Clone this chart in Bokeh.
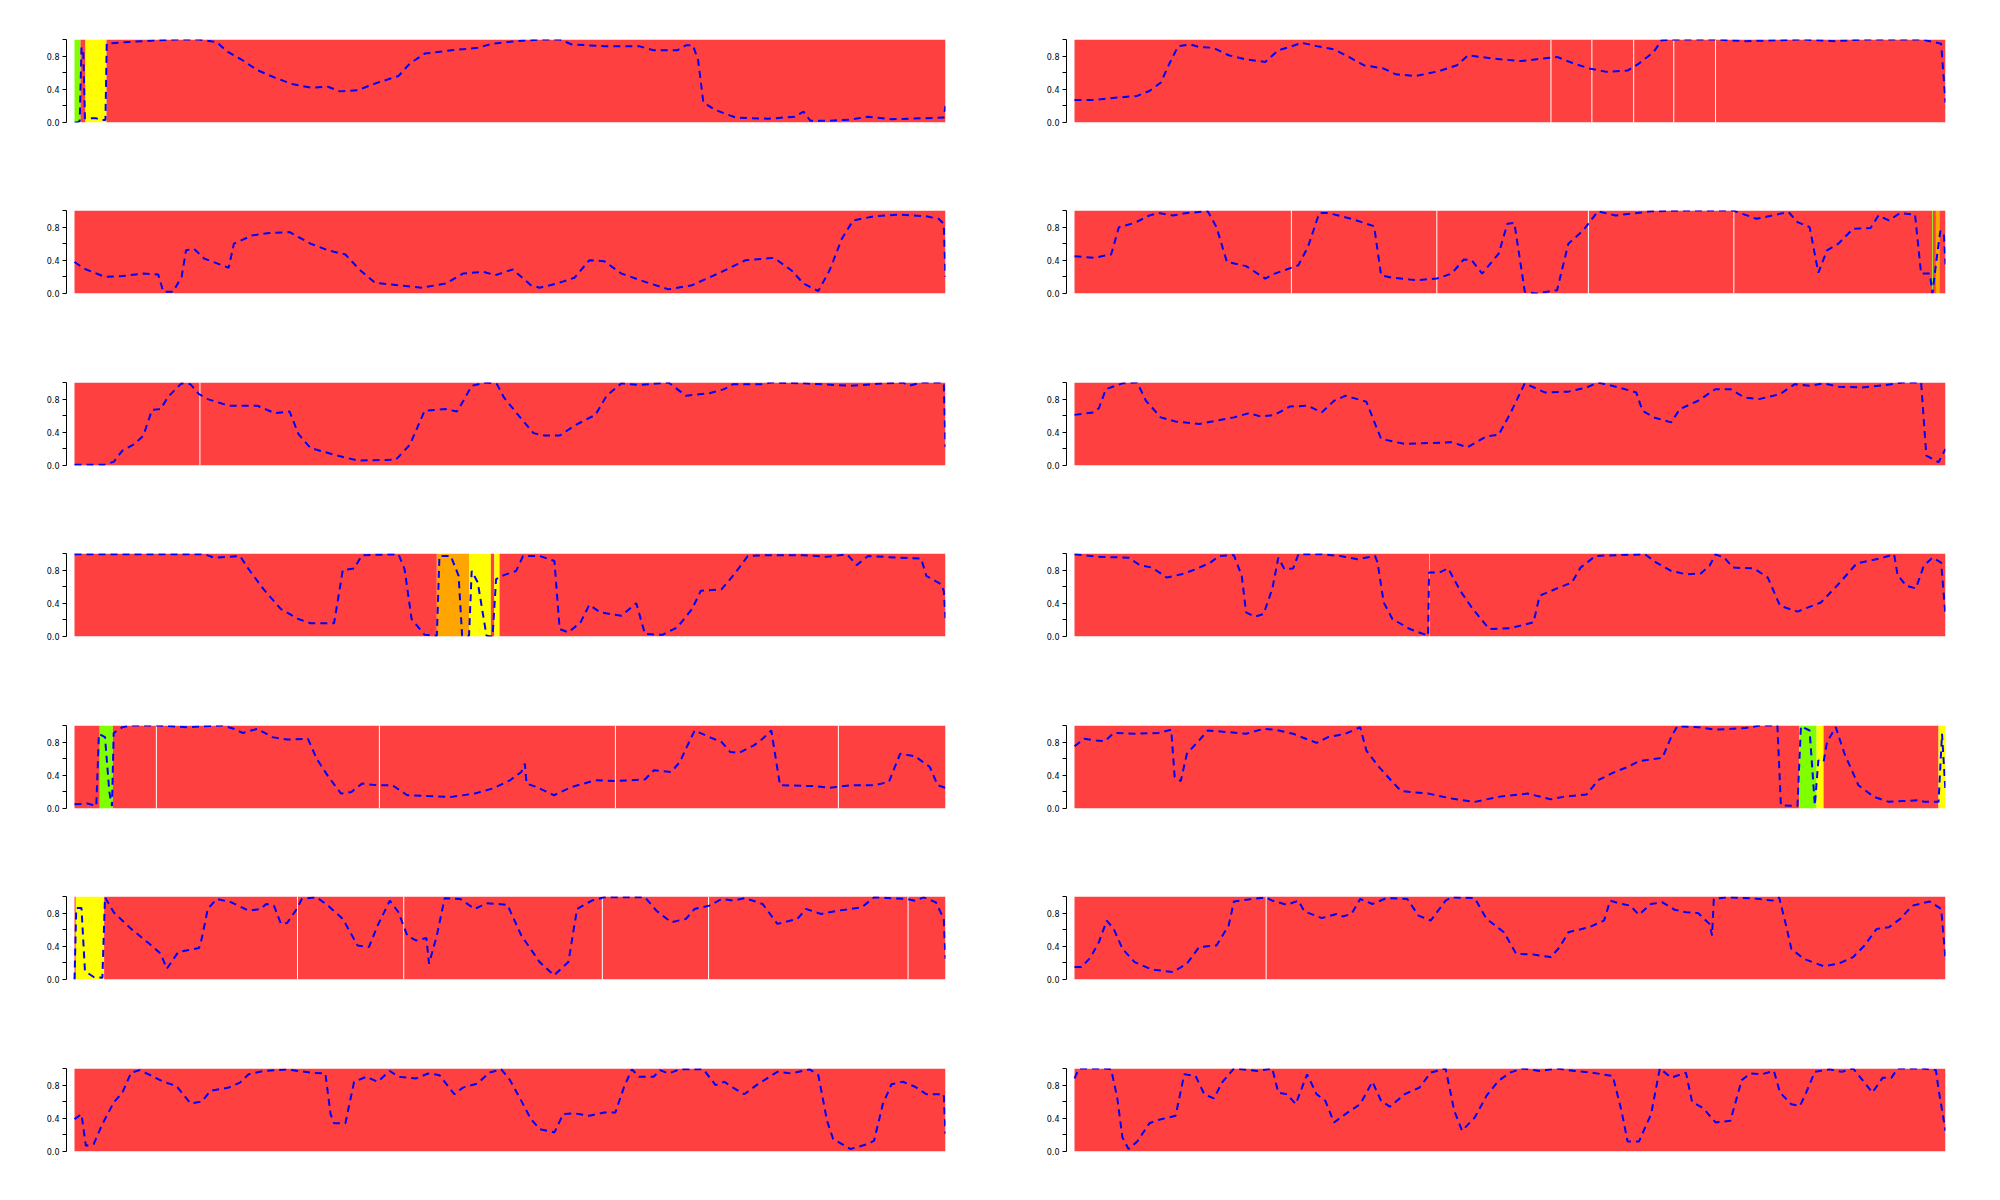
from bokeh.plotting import figure
from bokeh.layouts import column, row
from bokeh.models import FixedTicker, CustomJSTickFormatter
from bokeh.embed import file_html
from bokeh.resources import INLINE

# ---------------- data (x in % of track, y = probability) ----------------
# Row 1 left
L1_x = [0, 0.3, 0.6, 0.8, 1.0, 1.2, 1.5, 2.5, 3.0, 3.55, 3.7, 6.2, 9.6, 11.6, 14.3, 16.3, 17.6, 19.3, 21.0, 23.0, 25.1, 27.1, 29.1, 30.5, 32.5, 34.8, 37.2, 38.5, 40.2, 43.3, 46.3, 48.0, 50.7, 53.4, 55.7, 57.1, 60.8, 64.8, 66.5, 69.2, 70.2, 71.0, 71.6, 72.2, 73.6, 75.9, 79.6, 82.7, 83.7, 84.5, 86.4, 89.1, 91.1, 93.8, 97.2, 99.8, 100]
L1_y = [0.0, 0.0, 0.02, 0.9, 0.88, 0.05, 0.05, 0.05, 0.03, 0.03, 0.95, 0.97, 0.99, 1.0, 1.0, 0.97, 0.85, 0.75, 0.63, 0.54, 0.46, 0.42, 0.43, 0.375, 0.39, 0.48, 0.56, 0.71, 0.83, 0.87, 0.9, 0.95, 0.98, 1.0, 1.0, 0.94, 0.92, 0.92, 0.87, 0.87, 0.93, 0.93, 0.75, 0.24, 0.15, 0.06, 0.045, 0.07, 0.13, 0.02, 0.02, 0.035, 0.07, 0.04, 0.05, 0.06, 0.2]
# Row 1 right
R1_x = [0, 2.2, 4.9, 7.2, 8.6, 9.9, 10.9, 11.9, 13.3, 14.3, 15.9, 17.7, 19.7, 21.9, 23.4, 24.7, 26.1, 27.8, 29.8, 31.5, 33.2, 35.5, 36.9, 39.2, 41.9, 43.9, 45.2, 48.0, 51.3, 55.4, 57.1, 59.1, 61.1, 63.5, 64.8, 66.5, 67.4, 68.9, 73.6, 77.0, 83.7, 87.4, 90.4, 97.2, 99.5, 100]
R1_y = [0.27, 0.27, 0.3, 0.32, 0.38, 0.48, 0.71, 0.92, 0.94, 0.91, 0.9, 0.81, 0.76, 0.73, 0.87, 0.91, 0.96, 0.92, 0.88, 0.79, 0.69, 0.65, 0.58, 0.56, 0.62, 0.69, 0.81, 0.77, 0.74, 0.79, 0.72, 0.65, 0.61, 0.625, 0.71, 0.85, 0.99, 1.0, 1.0, 0.98, 1.0, 0.98, 1.0, 1.0, 0.95, 0.24]
# Row 2 left
L2_x = [0, 1.1, 3.5, 5.5, 7.9, 9.6, 10.2, 11.3, 12.3, 12.8, 13.7, 14.9, 17.7, 18.3, 20.4, 22.4, 24.7, 27.1, 29.1, 31.1, 32.8, 34.5, 37.2, 39.9, 42.6, 44.6, 47.0, 48.3, 50.3, 52.4, 53.4, 55.4, 57.4, 59.1, 60.8, 62.8, 65.5, 68.2, 70.9, 74.3, 77.0, 80.3, 82.3, 83.7, 85.4, 86.7, 88.1, 89.4, 91.8, 94.8, 97.8, 99.2, 99.8, 100]
L2_y = [0.38, 0.3, 0.2, 0.21, 0.24, 0.23, 0.02, 0.02, 0.2, 0.52, 0.54, 0.42, 0.31, 0.6, 0.7, 0.73, 0.74, 0.6, 0.52, 0.47, 0.28, 0.13, 0.1, 0.07, 0.12, 0.24, 0.26, 0.22, 0.29, 0.1, 0.07, 0.12, 0.19, 0.4, 0.39, 0.24, 0.14, 0.05, 0.1, 0.26, 0.4, 0.43, 0.28, 0.12, 0.03, 0.28, 0.66, 0.88, 0.93, 0.95, 0.93, 0.9, 0.84, 0.2]
# Row 2 right
R2_x = [0, 2.2, 4.2, 5.1, 6.9, 8.6, 9.6, 11.3, 12.9, 15.3, 16.3, 17.5, 19.7, 21.9, 23.0, 25.7, 26.8, 28.1, 29.1, 31.8, 34.4, 35.2, 36.5, 39.2, 41.6, 43.3, 44.7, 45.6, 46.8, 48.7, 49.7, 50.5, 51.7, 53.0, 55.4, 56.7, 58.4, 60.1, 62.1, 66.2, 70.2, 75.6, 78.3, 81.0, 82.0, 83.0, 84.4, 85.4, 86.4, 87.7, 89.4, 91.4, 92.3, 93.5, 94.8, 96.5, 97.2, 98.2, 98.5, 98.9, 99.4, 99.8, 100]
R2_y = [0.45, 0.43, 0.47, 0.8, 0.85, 0.94, 0.97, 0.94, 0.97, 0.99, 0.8, 0.38, 0.33, 0.18, 0.24, 0.34, 0.56, 0.97, 0.97, 0.9, 0.81, 0.22, 0.19, 0.16, 0.18, 0.24, 0.41, 0.4, 0.24, 0.48, 0.84, 0.85, 0.02, 0.0, 0.04, 0.6, 0.76, 0.99, 0.94, 0.99, 1.0, 1.0, 0.9, 0.96, 0.98, 0.86, 0.8, 0.25, 0.52, 0.6, 0.78, 0.79, 0.94, 0.88, 0.97, 0.95, 0.24, 0.24, 0.0, 0.35, 0.75, 0.74, 0.35]
# Row 3 left
L3_x = [0, 3.5, 4.5, 5.5, 6.9, 7.9, 8.9, 9.9, 10.7, 11.6, 12.3, 13.3, 14.3, 15.3, 17.7, 21.0, 23.0, 24.7, 25.7, 27.1, 29.8, 32.5, 36.9, 38.5, 40.2, 42.6, 43.9, 44.6, 45.6, 47.3, 48.5, 49.3, 51.0, 52.7, 54.0, 55.7, 57.4, 59.8, 61.1, 62.8, 64.8, 68.2, 70.2, 72.9, 74.6, 75.6, 79.0, 80.0, 83.7, 89.1, 93.1, 95.1, 95.8, 97.2, 99.8, 100]
L3_y = [0.01, 0.01, 0.045, 0.18, 0.26, 0.36, 0.67, 0.68, 0.82, 0.92, 0.99, 0.98, 0.86, 0.8, 0.72, 0.72, 0.63, 0.65, 0.38, 0.21, 0.13, 0.06, 0.07, 0.25, 0.66, 0.68, 0.65, 0.77, 0.96, 1.0, 0.98, 0.82, 0.6, 0.39, 0.36, 0.36, 0.48, 0.61, 0.84, 0.99, 0.97, 1.0, 0.84, 0.87, 0.92, 0.98, 0.98, 1.0, 0.99, 0.96, 0.99, 1.0, 0.96, 1.0, 1.0, 0.22]
# Row 3 right
R3_x = [0, 2.2, 2.8, 3.6, 5.5, 7.2, 8.2, 9.9, 11.6, 14.3, 16.3, 18.3, 20.0, 21.4, 23.0, 24.7, 26.8, 28.4, 29.8, 31.1, 33.5, 35.2, 37.9, 40.6, 43.3, 45.1, 47.3, 48.7, 50.0, 51.7, 54.0, 56.7, 58.8, 60.1, 62.5, 64.5, 65.2, 66.5, 68.5, 69.5, 71.6, 73.6, 75.3, 76.9, 78.6, 81.0, 82.7, 84.4, 86.0, 87.7, 90.4, 93.1, 95.1, 97.2, 97.8, 99.2, 100]
R3_y = [0.61, 0.64, 0.69, 0.92, 0.99, 1.0, 0.78, 0.58, 0.53, 0.5, 0.54, 0.58, 0.63, 0.59, 0.61, 0.71, 0.72, 0.64, 0.78, 0.84, 0.77, 0.32, 0.26, 0.27, 0.28, 0.22, 0.35, 0.37, 0.62, 0.99, 0.88, 0.89, 0.94, 1.0, 0.94, 0.88, 0.66, 0.58, 0.52, 0.68, 0.78, 0.92, 0.92, 0.82, 0.8, 0.86, 0.98, 0.96, 0.99, 0.95, 0.94, 0.97, 1.0, 1.0, 0.12, 0.04, 0.2]
# Row 4 left
L4_x = [0, 6.2, 15.0, 16.0, 19.0, 20.0, 21.7, 23.7, 25.7, 27.1, 29.8, 30.8, 32.1, 33.0, 37.2, 37.9, 38.7, 40.2, 41.6, 41.9, 43.2, 44.1, 44.5, 45.3, 45.6, 46.3, 47.3, 48.0, 48.4, 49.3, 50.7, 51.5, 53.4, 55.1, 55.7, 56.7, 58.1, 59.1, 60.4, 62.8, 64.5, 65.5, 67.5, 69.2, 70.9, 71.9, 74.3, 75.9, 77.3, 79.6, 83.7, 86.4, 88.7, 89.8, 91.1, 94.5, 97.2, 97.8, 99.5, 99.8, 100]
L4_y = [0.99, 0.99, 0.99, 0.95, 0.97, 0.81, 0.57, 0.33, 0.21, 0.16, 0.16, 0.8, 0.82, 0.98, 0.99, 0.81, 0.21, 0.02, 0.01, 0.97, 0.97, 0.73, 0.01, 0.01, 0.79, 0.65, 0.01, 0.0, 0.69, 0.74, 0.79, 0.97, 0.97, 0.91, 0.09, 0.05, 0.17, 0.38, 0.29, 0.25, 0.4, 0.03, 0.02, 0.11, 0.33, 0.55, 0.57, 0.77, 0.97, 0.98, 0.98, 0.96, 0.99, 0.86, 0.97, 0.95, 0.94, 0.73, 0.63, 0.55, 0.22]
# Row 4 right
R4_x = [0, 2.8, 6.2, 7.5, 8.9, 10.6, 12.3, 13.9, 15.6, 16.6, 18.3, 19.2, 19.7, 20.7, 21.7, 22.7, 23.4, 24.1, 25.1, 25.7, 28.4, 30.5, 32.5, 34.5, 34.8, 35.5, 36.5, 38.5, 40.6, 40.7, 41.9, 42.9, 44.3, 45.6, 47.6, 50.0, 52.7, 53.4, 55.4, 57.1, 58.1, 59.8, 62.1, 65.5, 66.8, 68.5, 70.2, 71.9, 72.9, 73.6, 74.6, 75.6, 78.0, 79.6, 81.0, 83.0, 85.7, 87.7, 89.8, 92.5, 94.1, 94.5, 95.5, 96.6, 97.5, 98.5, 99.5, 100]
R4_y = [0.99, 0.96, 0.95, 0.86, 0.83, 0.71, 0.75, 0.81, 0.89, 0.97, 0.98, 0.73, 0.29, 0.24, 0.27, 0.57, 0.95, 0.81, 0.82, 0.99, 0.99, 0.97, 0.93, 0.97, 0.89, 0.41, 0.21, 0.09, 0.01, 0.77, 0.77, 0.82, 0.55, 0.35, 0.09, 0.1, 0.17, 0.49, 0.58, 0.65, 0.83, 0.97, 0.98, 0.99, 0.89, 0.79, 0.75, 0.76, 0.85, 0.99, 0.95, 0.83, 0.82, 0.71, 0.37, 0.3, 0.41, 0.63, 0.88, 0.94, 0.99, 0.74, 0.61, 0.58, 0.85, 0.95, 0.89, 0.25]
# Row 5 left
L5_x = [0, 1.5, 2.5, 2.8, 3.5, 4.0, 4.3, 4.5, 5.5, 6.5, 9.6, 12.9, 17.0, 18.3, 19.3, 21.0, 22.7, 24.4, 26.8, 27.8, 29.1, 30.6, 31.8, 33.0, 34.8, 36.5, 38.2, 40.6, 43.3, 45.95, 48.0, 50.0, 51.3, 51.7, 51.9, 53.0, 55.05, 57.1, 59.8, 62.1, 65.5, 66.5, 68.5, 69.5, 70.2, 71.2, 72.9, 74.3, 75.3, 76.3, 78.0, 79.0, 80.0, 81.0, 85.0, 86.7, 89.1, 91.8, 93.5, 94.8, 96.5, 98.2, 99.1, 100]
L5_y = [0.05, 0.06, 0.03, 0.9, 0.86, 0.2, 0.03, 0.91, 0.98, 1.0, 1.0, 0.98, 1.0, 0.96, 0.91, 0.96, 0.86, 0.83, 0.84, 0.6, 0.39, 0.18, 0.2, 0.3, 0.28, 0.28, 0.16, 0.15, 0.14, 0.18, 0.24, 0.34, 0.44, 0.54, 0.3, 0.26, 0.16, 0.26, 0.34, 0.33, 0.35, 0.46, 0.44, 0.56, 0.72, 0.94, 0.86, 0.8, 0.68, 0.67, 0.76, 0.84, 0.94, 0.28, 0.27, 0.25, 0.28, 0.28, 0.32, 0.66, 0.63, 0.5, 0.28, 0.25]
# Row 5 right
R5_x = [0, 1.1, 2.5, 3.5, 4.5, 6.9, 9.6, 11.1, 11.5, 12.2, 12.9, 14.3, 15.3, 17.7, 19.7, 21.7, 23.0, 25.1, 27.8, 29.1, 31.1, 32.8, 33.5, 34.8, 36.5, 37.5, 40.6, 43.3, 45.95, 48.65, 52.0, 54.7, 56.1, 58.8, 60.1, 61.8, 63.5, 64.8, 67.5, 68.5, 69.2, 71.6, 73.6, 77.0, 78.7, 80.7, 81.1, 83.0, 83.4, 84.4, 85.0, 85.4, 86.0, 86.4, 87.4, 88.4, 90.0, 91.8, 93.5, 95.1, 97.2, 97.5, 99.2, 99.6, 100]
R5_y = [0.75, 0.84, 0.82, 0.81, 0.91, 0.9, 0.91, 0.95, 0.38, 0.33, 0.66, 0.82, 0.94, 0.92, 0.9, 0.96, 0.95, 0.9, 0.79, 0.86, 0.9, 0.98, 0.7, 0.52, 0.32, 0.21, 0.18, 0.12, 0.08, 0.14, 0.18, 0.11, 0.14, 0.17, 0.34, 0.43, 0.5, 0.57, 0.61, 0.86, 0.99, 0.98, 0.95, 0.97, 1.0, 1.0, 0.04, 0.03, 0.99, 0.94, 0.04, 0.58, 0.56, 0.8, 0.98, 0.66, 0.28, 0.14, 0.08, 0.09, 0.1, 0.08, 0.08, 0.9, 0.2]
# Row 6 left
L6_x = [0, 0.2, 0.8, 1.2, 2.2, 3.2, 3.5, 4.5, 6.5, 8.6, 9.9, 10.6, 11.9, 14.3, 14.6, 15.3, 16.3, 18.0, 20.0, 21.4, 22.0, 22.9, 23.7, 24.4, 25.4, 26.1, 27.8, 29.1, 30.8, 32.5, 33.8, 34.8, 36.2, 37.2, 38.2, 39.2, 40.4, 40.7, 41.6, 42.5, 44.3, 45.95, 47.3, 49.7, 51.3, 53.4, 55.05, 56.7, 57.7, 59.4, 60.8, 65.5, 66.8, 68.5, 70.2, 71.2, 72.9, 74.3, 75.6, 77.0, 79.0, 80.7, 83.0, 84.0, 85.7, 87.7, 90.4, 91.8, 95.5, 96.5, 97.5, 98.9, 99.8, 100]
L6_y = [0.0, 0.86, 0.86, 0.1, 0.03, 0.02, 0.99, 0.81, 0.61, 0.43, 0.31, 0.13, 0.33, 0.38, 0.49, 0.85, 0.97, 0.93, 0.83, 0.85, 0.91, 0.89, 0.67, 0.68, 0.83, 0.97, 0.99, 0.89, 0.73, 0.41, 0.39, 0.65, 0.95, 0.81, 0.53, 0.47, 0.5, 0.19, 0.53, 0.98, 0.97, 0.85, 0.92, 0.9, 0.53, 0.21, 0.05, 0.21, 0.85, 0.95, 0.99, 0.99, 0.83, 0.69, 0.73, 0.85, 0.89, 0.97, 0.95, 0.98, 0.91, 0.67, 0.73, 0.85, 0.79, 0.83, 0.87, 0.99, 0.97, 0.95, 0.99, 0.93, 0.73, 0.25]
# Row 6 right
R6_x = [0, 0.8, 1.8, 2.8, 3.7, 4.5, 5.5, 6.9, 8.9, 11.3, 12.9, 14.3, 16.3, 17.7, 18.3, 20.4, 22.0, 22.7, 24.4, 25.7, 26.4, 28.4, 30.1, 30.8, 31.8, 32.8, 34.2, 35.8, 38.2, 39.5, 40.9, 42.6, 43.3, 45.95, 47.3, 49.3, 50.7, 52.7, 54.7, 55.7, 56.7, 59.1, 60.8, 61.5, 62.8, 63.8, 64.8, 66.2, 67.5, 68.9, 70.2, 71.6, 72.9, 73.2, 73.4, 74.9, 77.6, 80.3, 80.9, 81.7, 82.3, 83.7, 86.0, 87.7, 89.4, 90.7, 92.1, 93.5, 94.8, 96.2, 98.2, 99.5, 100]
R6_y = [0.15, 0.15, 0.26, 0.45, 0.71, 0.61, 0.37, 0.21, 0.12, 0.09, 0.19, 0.39, 0.41, 0.65, 0.94, 0.97, 0.99, 0.95, 0.9, 0.95, 0.82, 0.74, 0.79, 0.76, 0.79, 0.97, 0.91, 0.98, 0.97, 0.77, 0.71, 0.95, 0.99, 0.98, 0.73, 0.57, 0.31, 0.3, 0.27, 0.39, 0.57, 0.63, 0.71, 0.95, 0.91, 0.89, 0.78, 0.91, 0.93, 0.84, 0.81, 0.8, 0.67, 0.53, 0.97, 0.99, 0.98, 0.95, 0.99, 0.65, 0.37, 0.25, 0.16, 0.19, 0.27, 0.41, 0.61, 0.63, 0.73, 0.89, 0.94, 0.85, 0.25]
# Row 7 left
L7_x = [0, 0.8, 1.3, 2.2, 3.2, 4.5, 5.5, 6.5, 7.5, 8.9, 10.2, 11.7, 13.3, 14.6, 15.6, 17.7, 19.0, 20.0, 21.7, 24.4, 27.1, 28.8, 29.4, 29.8, 31.1, 32.1, 33.5, 34.8, 36.2, 37.2, 39.2, 40.6, 41.9, 43.6, 44.6, 46.3, 47.6, 49.0, 50.0, 51.3, 52.4, 53.4, 55.1, 56.1, 57.4, 59.1, 60.8, 62.1, 63.1, 64.0, 64.8, 66.5, 67.2, 68.2, 69.5, 72.2, 73.6, 74.6, 75.6, 76.9, 78.3, 80.7, 82.3, 84.4, 85.4, 86.4, 87.1, 89.1, 91.1, 91.8, 92.8, 93.8, 95.1, 96.5, 97.8, 99.8, 100]
L7_y = [0.39, 0.45, 0.07, 0.09, 0.33, 0.59, 0.71, 0.95, 0.98, 0.91, 0.84, 0.79, 0.58, 0.6, 0.73, 0.77, 0.83, 0.93, 0.97, 0.99, 0.95, 0.94, 0.45, 0.34, 0.34, 0.84, 0.9, 0.84, 0.97, 0.9, 0.88, 0.94, 0.92, 0.69, 0.77, 0.82, 0.95, 0.99, 0.86, 0.61, 0.39, 0.27, 0.23, 0.45, 0.46, 0.43, 0.47, 0.47, 0.78, 0.99, 0.9, 0.9, 0.98, 0.94, 0.99, 0.99, 0.8, 0.84, 0.77, 0.69, 0.8, 0.96, 0.94, 0.99, 0.92, 0.37, 0.15, 0.03, 0.09, 0.13, 0.57, 0.81, 0.84, 0.78, 0.69, 0.69, 0.21]
# Row 7 right
R7_x = [0, 0.5, 3.5, 4.2, 4.9, 5.5, 6.2, 7.2, 8.6, 9.6, 11.6, 12.6, 13.9, 14.9, 16.0, 17.0, 18.3, 21.0, 22.7, 23.4, 24.4, 25.4, 26.7, 27.8, 28.8, 29.8, 31.1, 32.8, 34.2, 35.2, 36.2, 37.9, 39.6, 40.9, 42.6, 43.6, 44.5, 45.95, 47.3, 48.65, 50.0, 51.4, 53.4, 55.4, 57.4, 59.4, 61.8, 62.8, 63.5, 64.8, 66.2, 67.2, 68.5, 70.2, 70.9, 72.2, 73.6, 75.3, 76.6, 77.6, 78.9, 80.3, 81.0, 82.3, 83.3, 84.0, 85.0, 86.7, 88.1, 89.4, 90.4, 91.6, 92.8, 93.8, 94.5, 97.2, 98.9, 99.2, 100]
R7_y = [0.88, 1.0, 1.0, 0.99, 0.65, 0.17, 0.03, 0.12, 0.34, 0.38, 0.43, 0.93, 0.91, 0.69, 0.64, 0.84, 1.0, 0.97, 1.0, 0.71, 0.69, 0.57, 0.93, 0.69, 0.61, 0.35, 0.45, 0.57, 0.84, 0.61, 0.54, 0.69, 0.77, 0.95, 1.0, 0.49, 0.25, 0.41, 0.67, 0.85, 0.95, 1.0, 0.97, 1.0, 0.97, 0.95, 0.91, 0.49, 0.12, 0.12, 0.45, 1.0, 0.89, 0.95, 0.6, 0.52, 0.35, 0.37, 0.86, 0.94, 0.93, 0.97, 0.71, 0.57, 0.55, 0.71, 0.96, 0.99, 0.96, 1.0, 0.87, 0.71, 0.89, 0.89, 1.0, 1.0, 0.98, 0.75, 0.25]

# Background tracks: segment starts / ends / colours, and white separators
L1_seg_start = [0, 0.69, 1.26, 3.67]
L1_seg_end = [0.69, 1.26, 3.67, 100]
L1_seg_col = ["#7FFF00", "#FF4040", "#FFFF00", "#FF4040"]
L1_sep = []
R1_seg_start = [0]
R1_seg_end = [100]
R1_seg_col = ["#FF4040"]
R1_sep = [54.7, 59.4, 64.2, 68.8, 73.6]
L2_seg_start = [0]
L2_seg_end = [100]
L2_seg_col = ["#FF4040"]
L2_sep = []
R2_seg_start = [0, 98.45, 98.55, 98.9, 99.3]
R2_seg_end = [98.45, 98.55, 98.9, 99.3, 100]
R2_seg_col = ["#FF4040", "#7FFF00", "#FF4040", "#FFA500", "#FF4040"]
R2_sep = [24.9, 41.6, 59.0, 75.7]
L3_seg_start = [0]
L3_seg_end = [100]
L3_seg_col = ["#FF4040"]
L3_sep = [14.4]
R3_seg_start = [0]
R3_seg_end = [100]
R3_seg_col = ["#FF4040"]
R3_sep = []
L4_seg_start = [0, 41.6, 45.3, 47.8, 48.2, 48.8]
L4_seg_end = [41.6, 45.3, 47.8, 48.2, 48.8, 100]
L4_seg_col = ["#FF4040", "#FFA500", "#FFFF00", "#FF4040", "#FFFF00", "#FF4040"]
L4_sep = []
R4_seg_start = [0, 40.7, 40.8]
R4_seg_end = [40.7, 40.8, 100]
R4_seg_col = ["#FF4040", "#7FFF00", "#FF4040"]
R4_sep = []
L5_seg_start = [0, 2.9, 4.4]
L5_seg_end = [2.9, 4.4, 100]
L5_seg_col = ["#FF4040", "#7FFF00", "#FF4040"]
L5_sep = [9.4, 35.0, 62.1, 87.7]
R5_seg_start = [0, 83.2, 85.2, 86.0, 99.2]
R5_seg_end = [83.2, 85.2, 86.0, 99.2, 100]
R5_seg_col = ["#FF4040", "#7FFF00", "#FFFF00", "#FF4040", "#FFFF00"]
R5_sep = []
L6_seg_start = [0, 0.15, 3.4]
L6_seg_end = [0.15, 3.4, 100]
L6_seg_col = ["#FF4040", "#FFFF00", "#FF4040"]
L6_sep = [25.6, 37.8, 60.6, 72.8, 95.7]
R6_seg_start = [0]
R6_seg_end = [100]
R6_seg_col = ["#FF4040"]
R6_sep = [22.0]
L7_seg_start = [0]
L7_seg_end = [100]
L7_seg_col = ["#FF4040"]
L7_sep = []
R7_seg_start = [0]
R7_seg_end = [100]
R7_seg_col = ["#FF4040"]
R7_sep = []

panels = [
    (L1_x, L1_y, L1_seg_start, L1_seg_end, L1_seg_col, L1_sep),
    (R1_x, R1_y, R1_seg_start, R1_seg_end, R1_seg_col, R1_sep),
    (L2_x, L2_y, L2_seg_start, L2_seg_end, L2_seg_col, L2_sep),
    (R2_x, R2_y, R2_seg_start, R2_seg_end, R2_seg_col, R2_sep),
    (L3_x, L3_y, L3_seg_start, L3_seg_end, L3_seg_col, L3_sep),
    (R3_x, R3_y, R3_seg_start, R3_seg_end, R3_seg_col, R3_sep),
    (L4_x, L4_y, L4_seg_start, L4_seg_end, L4_seg_col, L4_sep),
    (R4_x, R4_y, R4_seg_start, R4_seg_end, R4_seg_col, R4_sep),
    (L5_x, L5_y, L5_seg_start, L5_seg_end, L5_seg_col, L5_sep),
    (R5_x, R5_y, R5_seg_start, R5_seg_end, R5_seg_col, R5_sep),
    (L6_x, L6_y, L6_seg_start, L6_seg_end, L6_seg_col, L6_sep),
    (R6_x, R6_y, R6_seg_start, R6_seg_end, R6_seg_col, R6_sep),
    (L7_x, L7_y, L7_seg_start, L7_seg_end, L7_seg_col, L7_sep),
    (R7_x, R7_y, R7_seg_start, R7_seg_end, R7_seg_col, R7_sep),
]

y_ticks = [0.0, 0.2, 0.4, 0.6, 0.8, 1.0]
row_heights = [171, 172, 171, 172, 171, 172, 171]

FRAME_W = 879
FRAME_H = 83
X_LEFT = -0.92

rows = []
for r in range(7):
    figs = []
    for c in range(2):
        xs, ys, s0, s1, cols, seps = panels[r * 2 + c]
        h = row_heights[r]
        p = figure(frame_width=FRAME_W, frame_height=FRAME_H,
                   x_range=(X_LEFT, 100), y_range=(0, 1),
                   output_backend="svg", toolbar_location=None,
                   min_border_left=66, min_border_right=55,
                   min_border_top=39, min_border_bottom=h - 39 - FRAME_H,
                   background_fill_color="white", border_fill_color="white",
                   outline_line_color=None)
        p.xaxis.visible = False
        p.xgrid.visible = False
        p.ygrid.visible = False
        p.quad(left=s0, right=s1, bottom=0, top=1, fill_color=cols,
               line_color=None)
        if seps:
            p.segment(x0=seps, y0=[0] * len(seps), x1=seps, y1=[1] * len(seps),
                      line_color="white", line_width=1)
        p.line(xs, ys, line_color="#0000FF", line_width=2, line_dash="7 5")
        ax = p.yaxis[0]
        ax.ticker = FixedTicker(ticks=y_ticks)
        ax.formatter = CustomJSTickFormatter(code="""
            const keep = [0.0, 0.4, 0.8];
            for (const k of keep) { if (Math.abs(tick - k) < 1e-6) return tick.toFixed(1); }
            return '';
        """)
        ax.major_label_text_font_size = "8px"
        ax.major_label_text_font = "DejaVu Sans"
        ax.major_label_text_color = "black"
        ax.major_tick_out = 4
        ax.major_tick_in = 0
        ax.minor_tick_out = 0
        ax.minor_tick_in = 0
        ax.axis_line_color = "black"
        ax.major_tick_line_color = "black"
        ax.major_label_standoff = 3
        figs.append(p)
    rows.append(row(*figs, spacing=0))

layout = column(*rows, spacing=0)

open("out.html", "w").write(file_html(layout, INLINE))
